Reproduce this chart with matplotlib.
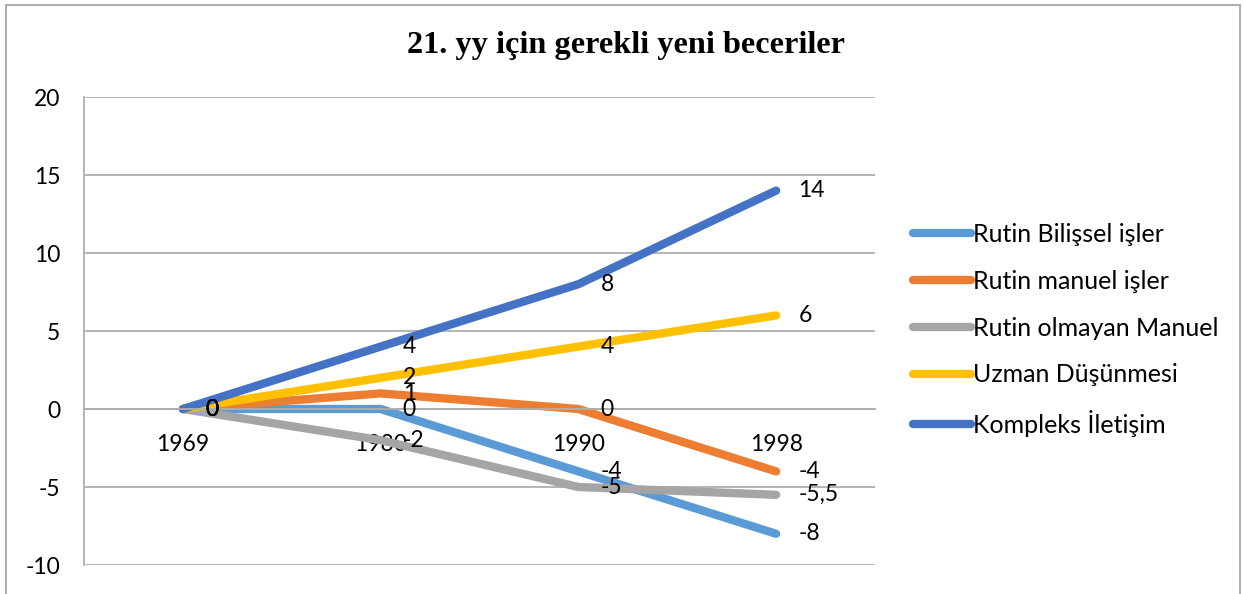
import matplotlib
matplotlib.use('Agg')
import matplotlib.pyplot as plt
from matplotlib.patches import Rectangle

# data
years = ['1969', '1980', '1990', '1998']
series_names = ['Rutin Bilişsel işler', 'Rutin manuel işler', 'Rutin olmayan Manuel',
                'Uzman Düşünmesi', 'Kompleks İletişim']
rutin_bilissel = [0, 0, -4, -8]
rutin_manuel = [0, 1, 0, -4]
rutin_olmayan_manuel = [0, -2, -5, -5.5]
uzman_dusunmesi = [0, 2, 4, 6]
kompleks_iletisim = [0, 4, 8, 14]
colors = ['#5B9BD5', '#ED7D31', '#A5A5A5', '#FFC000', '#4472C4']

all_series = [rutin_bilissel, rutin_manuel, rutin_olmayan_manuel, uzman_dusunmesi, kompleks_iletisim]

plt.rcParams['font.family'] = ['Lato', 'DejaVu Sans']
plt.rcParams['axes.unicode_minus'] = False
W, H = 1244, 594
fig = plt.figure(figsize=(W / 100, H / 100), dpi=100)
ax = fig.add_axes((84 / W, 1 - 565 / H, (875 - 84) / W, (565 - 97) / H))

grid_c = '#AFAFAF'
x = list(range(len(years)))
for vals, name, c in zip(all_series, series_names, colors):
    ax.plot(x, vals, color=c, lw=6, solid_capstyle='round', solid_joinstyle='round', label=name)

def fmt(v):
    return str(int(v)) if float(v).is_integer() else str(v).replace('.', ',')

for vals in all_series:
    for i, v in enumerate(vals):
        ax.annotate(fmt(v), (i, v), xytext=(16, 0), textcoords='offset points',
                    ha='left', va='center', fontsize=16.5, color='black', zorder=10)

ax.set_ylim(-10, 20)
ax.set_xlim(-0.5, len(years) - 0.5)
ax.set_yticks(range(-10, 21, 5))
ax.set_xticks(x)
ax.set_xticklabels(years)
ax.tick_params(axis='both', length=0, labelsize=16.5)
ax.tick_params(axis='x', pad=18)
ax.tick_params(axis='y', pad=17)
ax.grid(axis='y', color=grid_c, lw=1.3)
ax.set_axisbelow(True)
for s in ['top', 'right']:
    ax.spines[s].set_visible(False)
ax.spines['bottom'].set_position(('data', 0))
ax.spines['bottom'].set_color(grid_c)
ax.spines['left'].set_color(grid_c)
ax.spines['bottom'].set_linewidth(1.3)
ax.spines['left'].set_linewidth(1.3)

fig.text(626 / W, 1 - 46 / H, '21. yy için gerekli yeni beceriler', ha='center', va='center',
         fontsize=23.2, fontweight='bold', family='Liberation Serif')

fig.legend(loc='upper left', bbox_to_anchor=(913 / W, 1 - 223 / H), frameon=False,
           fontsize=18, handlelength=2.3, handletextpad=0.1, labelspacing=0.95,
           borderpad=0, borderaxespad=0)

fig.add_artist(Rectangle((6 / W, -0.05), (1240 - 6) / W, 1.05 - 5 / H, transform=fig.transFigure,
                         fill=False, edgecolor='#A6A6A6', lw=1.3))

fig.savefig('out.png', dpi=100)
